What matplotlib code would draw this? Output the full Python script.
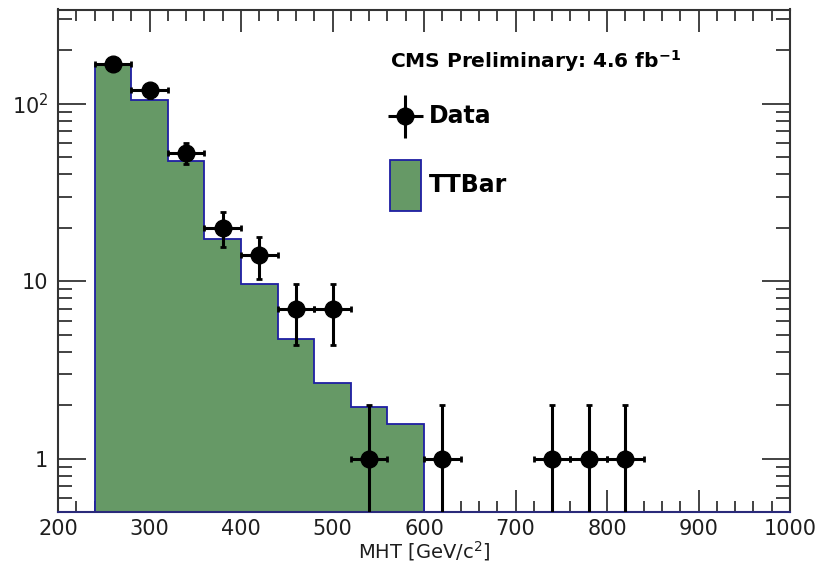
import numpy as np
import matplotlib
matplotlib.use("Agg")
import matplotlib.pyplot as plt
from matplotlib.ticker import FixedLocator, NullFormatter
from matplotlib.patches import Patch
from matplotlib.legend_handler import HandlerErrorbar

plt.rcParams['font.family'] = ['DejaVu Sans']
plt.rcParams['mathtext.fontset'] = 'custom'
plt.rcParams['mathtext.rm'] = 'DejaVu Sans'
plt.rcParams['mathtext.it'] = 'DejaVu Sans:italic'
plt.rcParams['mathtext.bf'] = 'DejaVu Sans:bold'

# ---- data ----
bin_edges = [240, 280, 320, 360, 400, 440, 480, 520, 560, 600]
ttbar_values = [168, 105, 47.7, 17.2, 9.6, 4.7, 2.68, 1.96, 1.57]

data_x = [260, 300, 340, 380, 420, 460, 500, 540, 620, 740, 780, 820]
data_y = [167, 119, 53, 20, 14, 7, 7, 1, 1, 1, 1, 1]
data_xerr = [20] * len(data_x)
data_yerr = list(np.sqrt(data_y))

x_ticks = [200, 300, 400, 500, 600, 700, 800, 900, 1000]
y_ticks = [1, 10, 100]
y_tick_labels = ['1', '10', '10$^{2}$']

GREEN = '#669966'
EDGE = '#1f1fa3'
TXT = '#1e1e1e'


class CenteredErrorbarHandler(HandlerErrorbar):
    def create_artists(self, legend, orig_handle, xdescent, ydescent,
                       width, height, fontsize, trans):
        return super().create_artists(legend, orig_handle, xdescent, 2 * ydescent,
                                      width, height, fontsize, trans)


fig = plt.figure(figsize=(8.24, 5.67), dpi=100)
ax = fig.add_axes([58/824, 1 - 512/567, 732/824, 502.5/567])

ymin, ymax = 0.5, 340
ax.stairs(ttbar_values, bin_edges, baseline=ymin, fill=True, color=GREEN, zorder=2.2)
ax.stairs(ttbar_values, bin_edges, baseline=ymin, fill=False, color=EDGE, lw=1.3, zorder=2.3)

ax.errorbar(data_x, data_y, xerr=data_xerr, yerr=data_yerr, fmt='o', color='black',
            markersize=12, elinewidth=2.2, capsize=2.5, capthick=2.0, zorder=4)

ax.set_yscale('log')
ax.set_xlim(200, 1000)
ax.set_ylim(ymin, ymax)
ax.set_axisbelow(True)

ax.xaxis.set_major_locator(FixedLocator(x_ticks))
ax.xaxis.set_minor_locator(FixedLocator(np.arange(200, 1001, 20)))
ax.set_xticklabels([str(t) for t in x_ticks])
ax.yaxis.set_major_locator(FixedLocator(y_ticks))
minor_y = [m * d for d in [0.1, 1, 10, 100] for m in range(2, 10)]
ax.yaxis.set_minor_locator(FixedLocator(minor_y))
ax.yaxis.set_minor_formatter(NullFormatter())
ax.set_yticklabels(y_tick_labels)

ax.tick_params(which='both', direction='in', top=True, right=True, colors='#222222',
               labelcolor=TXT, width=1.2)
ax.tick_params(axis='x', which='major', length=16, labelsize=15, pad=5)
ax.tick_params(axis='x', which='minor', length=8)
ax.tick_params(axis='y', which='major', length=20, labelsize=15, pad=7)
ax.tick_params(axis='y', which='minor', length=10)

for s in ax.spines.values():
    s.set_linewidth(1.5)
    s.set_color('#333333')
ax.spines['bottom'].set_color('#2a2a7a')

ax.set_xlabel('MHT [GeV/c$^{2}$]', fontsize=14, labelpad=0, color=TXT)

ax.text(0.4536, 0.8975, 'CMS Preliminary: 4.6 fb$^{\\mathbf{-1}}$', transform=ax.transAxes,
        fontsize=14.5, fontweight='bold', va='center', ha='left')

h_tt = Patch(facecolor=GREEN, edgecolor=EDGE, lw=1.3)
data_handle = ax.errorbar([], [], xerr=[], yerr=[], fmt='o', color='black',
                          markersize=12, elinewidth=2.2)
leg = ax.legend([data_handle, h_tt], ['Data', 'TTBar'], loc='upper left',
                bbox_to_anchor=(0.4536, 0.838), frameon=False, borderpad=0,
                borderaxespad=0, handlelength=1.3, handleheight=2.95,
                labelspacing=0.76, handletextpad=0.33,
                handler_map={type(data_handle): CenteredErrorbarHandler(xerr_size=0.75,
                                                                       yerr_size=0.9)},
                prop={'family': 'DejaVu Sans', 'weight': 'bold', 'size': 17})

fig.savefig('out.png', dpi=100)
